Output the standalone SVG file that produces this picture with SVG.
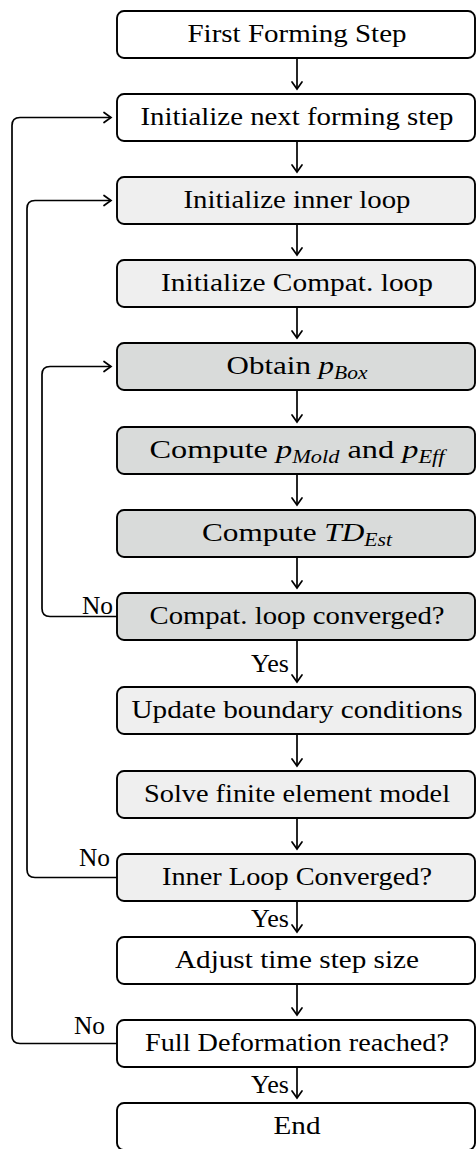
<svg xmlns="http://www.w3.org/2000/svg" width="476" height="1149" viewBox="0 0 476 1149">
<style>
.box{stroke:#000;stroke-width:1.9}
.w{fill:#fff}
.l{fill:#efefef}
.d{fill:#d9dbda}
text{font-family:"Liberation Serif","Times New Roman",serif;font-size:26px;fill:#000}
.t{text-anchor:middle}
.lbl{font-size:26px}
.i{font-style:italic}
.s{font-style:italic;font-size:18px}
.c{fill:none;stroke:#000;stroke-width:1.7;marker-end:url(#ah)}
</style>
<defs>
<marker id="ah" markerUnits="userSpaceOnUse" markerWidth="16" markerHeight="16" viewBox="-9 -8 11 16" refX="0" refY="0" orient="auto">
<path d="M-7,-5 Q-1.8,-1.3 0,0 Q-1.8,1.3 -7,5" fill="none" stroke="#000" stroke-width="1.7" stroke-linecap="round"/>
</marker>
</defs>
<rect width="476" height="1149" fill="#fff"/>
<g id="connectors">
<path class="c" d="M297,58 V89"/>
<path class="c" d="M297,141 V172"/>
<path class="c" d="M297,224 V255"/>
<path class="c" d="M297,307 V338"/>
<path class="c" d="M297,390 V422"/>
<path class="c" d="M297,474 V505"/>
<path class="c" d="M297,557 V588"/>
<path class="c" d="M297,640 V682"/>
<path class="c" d="M297,734 V766"/>
<path class="c" d="M297,818 V849"/>
<path class="c" d="M297,901 V932"/>
<path class="c" d="M297,984 V1015"/>
<path class="c" d="M297,1067 V1098"/>
<path class="c" d="M117,1043.5 H20 Q12,1043.5 12,1035.5 V125.5 Q12,117.5 20,117.5 H111"/>
<path class="c" d="M117,877.5 H35 Q27,877.5 27,869.5 V208.5 Q27,200.5 35,200.5 H111"/>
<path class="c" d="M117,616.5 H50 Q42,616.5 42,608.5 V374.5 Q42,366.5 50,366.5 H111"/>
<text class="lbl" x="113" y="614" text-anchor="end" textLength="31" lengthAdjust="spacingAndGlyphs">No</text>
<text class="lbl" x="110" y="866" text-anchor="end" textLength="31" lengthAdjust="spacingAndGlyphs">No</text>
<text class="lbl" x="105" y="1034" text-anchor="end" textLength="31" lengthAdjust="spacingAndGlyphs">No</text>
<text class="lbl" x="289" y="672" text-anchor="end" textLength="38" lengthAdjust="spacingAndGlyphs">Yes</text>
<text class="lbl" x="289" y="927" text-anchor="end" textLength="38" lengthAdjust="spacingAndGlyphs">Yes</text>
<text class="lbl" x="289" y="1093" text-anchor="end" textLength="38" lengthAdjust="spacingAndGlyphs">Yes</text>
</g>
<g id="n1"><rect class="box w" x="117" y="11" width="358" height="47" rx="7"/><text class="t" x="297" y="42" textLength="219" lengthAdjust="spacingAndGlyphs">First Forming Step</text></g>
<g id="n2"><rect class="box w" x="117" y="94" width="358" height="47" rx="7"/><text class="t" x="297" y="125" textLength="313" lengthAdjust="spacingAndGlyphs">Initialize next forming step</text></g>
<g id="n3"><rect class="box l" x="117" y="177" width="358" height="47" rx="7"/><text class="t" x="297" y="208" textLength="227" lengthAdjust="spacingAndGlyphs">Initialize inner loop</text></g>
<g id="n4"><rect class="box l" x="117" y="260" width="358" height="47" rx="7"/><text class="t" x="297" y="291" textLength="272" lengthAdjust="spacingAndGlyphs">Initialize Compat. loop</text></g>
<g id="n5"><rect class="box d" x="117" y="343" width="358" height="47" rx="7"/><text class="t" x="297" y="374" textLength="141" lengthAdjust="spacingAndGlyphs">Obtain <tspan class="i">p</tspan><tspan class="s" dy="5">Box</tspan></text></g>
<g id="n6"><rect class="box d" x="117" y="427" width="358" height="47" rx="7"/><text class="t" x="297" y="458" textLength="295" lengthAdjust="spacingAndGlyphs">Compute <tspan class="i">p</tspan><tspan class="s" dy="5">Mold</tspan><tspan dy="-5"> and </tspan><tspan class="i">p</tspan><tspan class="s" dy="5">Eff</tspan></text></g>
<g id="n7"><rect class="box d" x="117" y="510" width="358" height="47" rx="7"/><text class="t" x="297" y="541" textLength="190" lengthAdjust="spacingAndGlyphs">Compute <tspan class="i">TD</tspan><tspan class="s" dy="5">Est</tspan></text></g>
<g id="n8"><rect class="box d" x="117" y="593" width="358" height="47" rx="7"/><text class="t" x="297" y="624" textLength="295" lengthAdjust="spacingAndGlyphs">Compat. loop converged?</text></g>
<g id="n9"><rect class="box l" x="117" y="687" width="358" height="47" rx="7"/><text class="t" x="297" y="718" textLength="331" lengthAdjust="spacingAndGlyphs">Update boundary conditions</text></g>
<g id="n10"><rect class="box l" x="117" y="771" width="358" height="47" rx="7"/><text class="t" x="297" y="802" textLength="306" lengthAdjust="spacingAndGlyphs">Solve finite element model</text></g>
<g id="n11"><rect class="box l" x="117" y="854" width="358" height="47" rx="7"/><text class="t" x="297" y="885" textLength="270" lengthAdjust="spacingAndGlyphs">Inner Loop Converged?</text></g>
<g id="n12"><rect class="box w" x="117" y="937" width="358" height="47" rx="7"/><text class="t" x="297" y="968" textLength="244" lengthAdjust="spacingAndGlyphs">Adjust time step size</text></g>
<g id="n13"><rect class="box w" x="117" y="1020" width="358" height="47" rx="7"/><text class="t" x="297" y="1051" textLength="304" lengthAdjust="spacingAndGlyphs">Full Deformation reached?</text></g>
<g id="n14"><rect class="box w" x="117" y="1103" width="358" height="47" rx="7"/><text class="t" x="297" y="1134" textLength="47" lengthAdjust="spacingAndGlyphs">End</text></g>
</svg>
